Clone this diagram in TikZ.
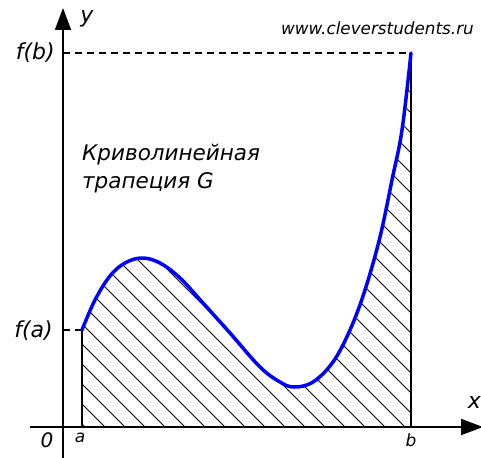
\documentclass[tikz,border=0pt]{standalone}
\usepackage{fontspec}
\setmainfont{DejaVu Sans}
\usetikzlibrary{arrows.meta}

\tikzset{
  axis/.style={line width=2pt},
  hatch/.style={line width=0.9pt},
  curve/.style={blue, line width=3.5pt, line cap=round, line join=round},
  lbl/.style={inner sep=0pt, font=\itshape\fontsize{22}{26}\selectfont}
}

\begin{document}
\begin{tikzpicture}[x=1pt, y=-1pt, >={Triangle[length=22pt, width=16pt]}]
  \useasboundingbox (0,0) rectangle (481,457);

  % Точки
  \coordinate (O) at (63,427);
  \coordinate (A) at (82,427);
  \coordinate (B) at (411,427);
  \coordinate (FA) at (82,330);
  \coordinate (FB) at (411,53);
  \coordinate (YA) at (63,330);
  \coordinate (YB) at (63,53);
  \coordinate (xs) at (30,427);
  \coordinate (xe) at (483,427);
  \coordinate (ys) at (63,460);
  \coordinate (ye) at (63,8);

  % Штриховка
  \begin{scope}
    \clip (A) -- plot[smooth, tension=0.6] coordinates {
      (82,330) (95,300) (110,276) (125,263) (142,258) (160,263) (180,278)
      (203,303) (230,333) (260,367) (280,382) (294,387) (313,382) (333,362)
      (350,330) (365,290) (380,237) (392,180) (402,130) (411,53)} -- (B) -- cycle;
    \foreach \c in {65,85,...,905}
      \draw[hatch] (\c,427) -- ++(-430,-430);
  \end{scope}

  % Границы трапеции
  \draw[line width=1.4pt] (A) -- (FA);
  \draw[line width=1.4pt] (B) -- (FB);
  \draw[line width=1.2pt, dash pattern=on 7pt off 5pt] (YB) -- (FB);
  \draw[line width=1.2pt, dash pattern=on 7pt off 5pt] (YA) -- (FA);

  % Оси
  \draw[axis, ->] (xs) -- (xe);
  \draw[axis, ->] (ys) -- (ye);

  % Кривая
  \draw[curve] plot[smooth, tension=0.6] coordinates {
      (82,330) (95,300) (110,276) (125,263) (142,258) (160,263) (180,278)
      (203,303) (230,333) (260,367) (280,382) (294,387) (313,382) (333,362)
      (350,330) (365,290) (380,237) (392,180) (402,130) (411,53)};

  % Подписи
  \node[lbl] (ly) at (87,19) {y};
  \node[lbl, anchor=east] (lx) at (481,402) {x};
  \node[lbl, anchor=east] (lfb) at (55,53) {f(b)};
  \node[lbl, anchor=east] (lfa) at (53,331) {f(a)};
  \node[lbl, font=\itshape\fontsize{20}{22}\selectfont] (l0) at (47,440) {0};
  \node[lbl, font=\itshape\fontsize{17}{19}\selectfont] (la) at (80,438) {a};
  \node[lbl, font=\itshape\fontsize{17}{19}\selectfont] (lb) at (411,440) {b};
  \node[lbl, anchor=base west, align=left, font=\itshape\fontsize{21.5}{28}\selectfont]
    (G) at (82,188) {Криволинейная\\трапеция G};
  \node[lbl, anchor=base east, font=\itshape\fontsize{16.8}{18}\selectfont]
    (www) at (474,35) {www.cleverstudents.ru};
\end{tikzpicture}
\end{document}
